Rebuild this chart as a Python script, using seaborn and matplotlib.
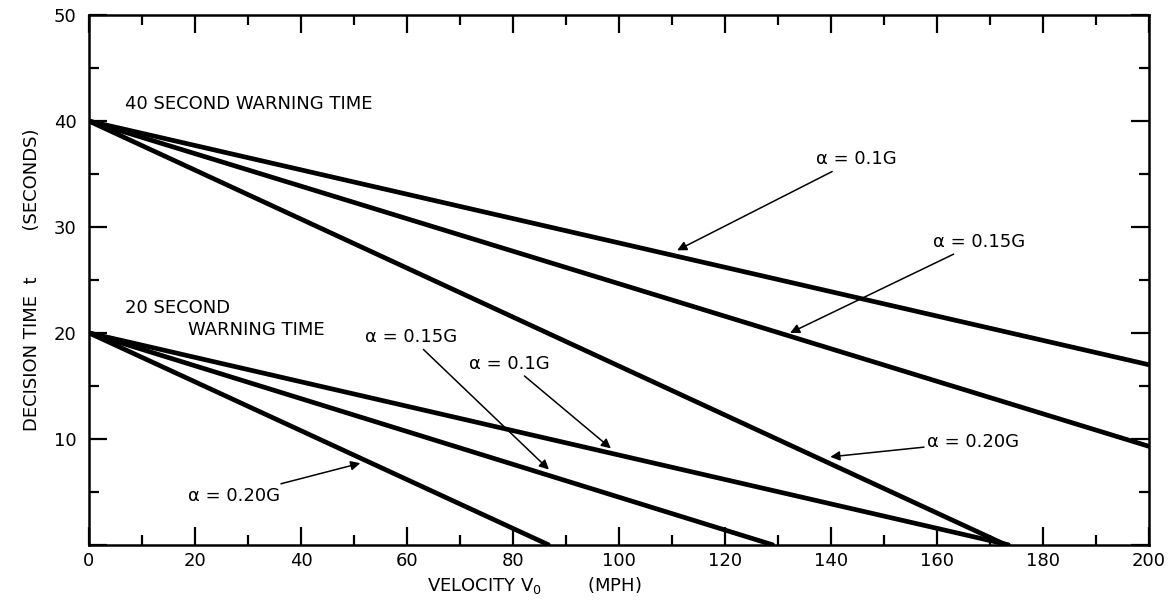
import matplotlib
matplotlib.use("Agg")
import matplotlib.pyplot as plt
from matplotlib import font_manager
from matplotlib.ticker import MultipleLocator, FixedLocator
import seaborn as sns
import pandas as pd

# ---- data ----
velocity_40 = [0, 200]
t40_a010 = [40, 17.0]
t40_a015 = [40, 9.3]
velocity_40_a020 = [0, 173]
t40_a020 = [40, 0]

velocity_20_a010 = [0, 173.5]
t20_a010 = [20, 0]
velocity_20_a015 = [0, 129]
t20_a015 = [20, 0]
velocity_20_a020 = [0, 86.7]
t20_a020 = [20, 0]

x_ticks = [0, 20, 40, 60, 80, 100, 120, 140, 160, 180, 200]
y_ticks = [0, 10, 20, 30, 40, 50]
y_tick_labels = ["", "10", "20", "30", "40", "50"]

series = [
    ("40s a=0.10", velocity_40, t40_a010),
    ("40s a=0.15", velocity_40, t40_a015),
    ("40s a=0.20", velocity_40_a020, t40_a020),
    ("20s a=0.10", velocity_20_a010, t20_a010),
    ("20s a=0.15", velocity_20_a015, t20_a015),
    ("20s a=0.20", velocity_20_a020, t20_a020),
]
rows = []
for name, xs, ys in series:
    for xv, yv in zip(xs, ys):
        rows.append({"series": name, "v": xv, "t": yv})
df = pd.DataFrame(rows)

sns.set_theme(style="ticks")
available = {f.name for f in font_manager.fontManager.ttflist}
fam = "Liberation Sans Narrow" if "Liberation Sans Narrow" in available else "DejaVu Sans"
plt.rcParams["font.family"] = [fam, "DejaVu Sans"]
plt.rcParams["mathtext.default"] = "regular"
plt.rcParams["text.color"] = "black"
plt.rcParams["axes.labelcolor"] = "black"

fig = plt.figure(figsize=(11.71, 6.08), dpi=100)
ax = fig.add_axes([0.076, 0.104, 0.905, 0.871])

sns.lineplot(data=df, x="v", y="t", units="series", estimator=None,
             color="black", lw=3.4, ax=ax, legend=False)

ax.set_xlim(0, 200)
ax.set_ylim(0, 50)
ax.xaxis.set_major_locator(FixedLocator(x_ticks))
ax.xaxis.set_minor_locator(MultipleLocator(10))
ax.yaxis.set_major_locator(FixedLocator(y_ticks))
ax.yaxis.set_minor_locator(MultipleLocator(5))
ax.set_xticklabels([str(v) for v in x_ticks])
ax.set_yticklabels(y_tick_labels)

ax.tick_params(which="both", direction="in", top=True, right=True,
               width=1.6, color="black", labelsize=13, labelcolor="black")
ax.tick_params(which="major", length=13)
ax.tick_params(which="minor", length=7)
ax.tick_params(axis="y", pad=9)
ax.tick_params(axis="x", pad=5)
for s in ax.spines.values():
    s.set_linewidth(1.8)
    s.set_color("black")

ax.set_xlabel("VELOCITY V$_0$        (MPH)", fontsize=13, color="black",
              x=0.42, labelpad=4)
ax.set_ylabel("DECISION TIME  t        (SECONDS)", fontsize=13, color="black",
              labelpad=9)

fs = 13
ax.text(6.8, 41.6, "40 SECOND WARNING TIME", fontsize=fs, va="center", ha="left",
        color="black")
ax.text(6.8, 22.4, "20 SECOND", fontsize=fs, va="center", ha="left", color="black")
ax.text(18.7, 20.3, "WARNING TIME", fontsize=fs, va="center", ha="left", color="black")

arrow = dict(arrowstyle="-|>", color="black", lw=1.1, mutation_scale=14,
             shrinkA=0, shrinkB=0)
# 40 second group
ax.annotate("α = 0.1G", xy=(111, 27.8), xytext=(137.2, 36.4), fontsize=fs,
            va="center", ha="left", color="black", arrowprops=arrow)
ax.annotate("α = 0.15G", xy=(132.3, 20.0), xytext=(159.3, 28.6), fontsize=fs,
            va="center", ha="left", color="black", arrowprops=arrow)
ax.annotate("α = 0.20G", xy=(139.9, 8.3), xytext=(158.2, 9.7), fontsize=fs,
            va="center", ha="left", color="black", arrowprops=arrow)
# 20 second group
ax.annotate("α = 0.15G", xy=(86.8, 7.1), xytext=(52.0, 19.6), fontsize=fs,
            va="center", ha="left", color="black", arrowprops=arrow)
ax.annotate("α = 0.1G", xy=(98.5, 9.1), xytext=(71.8, 17.1), fontsize=fs,
            va="center", ha="left", color="black", arrowprops=arrow)
ax.annotate("α = 0.20G", xy=(51.2, 7.7), xytext=(18.6, 4.6), fontsize=fs,
            va="center", ha="left", color="black", arrowprops=arrow)

fig.savefig("out.png", dpi=100)
